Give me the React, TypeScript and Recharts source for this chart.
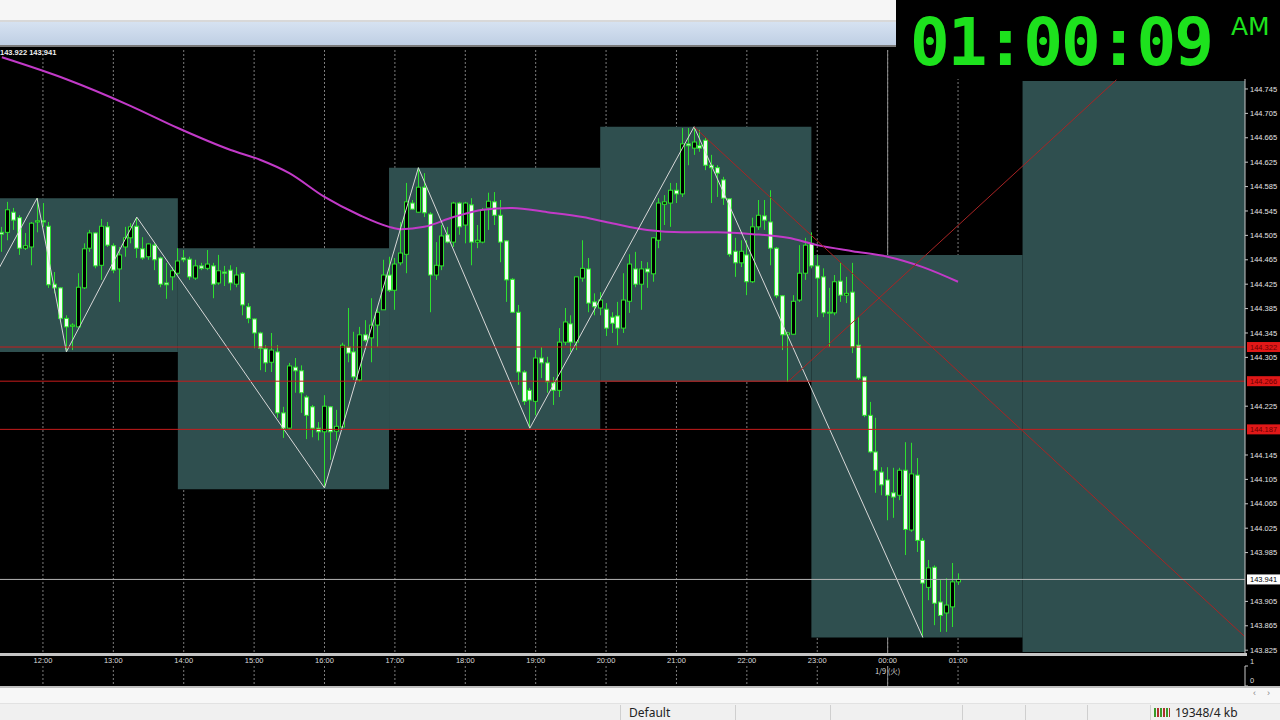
import React from "react";
import {
  Bar,
  CartesianGrid,
  ComposedChart,
  Line,
  ReferenceArea,
  ReferenceLine,
  XAxis,
  YAxis,
} from "recharts";

// 5 minute candles, time in minutes from 12:00 (first one is 11:25, last one 01:00)
const firstMinute = -35;
const opens = [
  144.510, 144.510, 144.543, 144.534, 144.484, 144.486, 144.527, 144.529, 144.520, 144.425,
  144.419, 144.369, 144.356, 144.355, 144.419, 144.484, 144.509, 144.456, 144.519, 144.488,
  144.450, 144.486, 144.501, 144.520, 144.483, 144.470, 144.489, 144.468, 144.427, 144.437,
  144.443, 144.468, 144.466, 144.435, 144.455, 144.451, 144.455, 144.427, 144.445, 144.448,
  144.425, 144.443, 144.388, 144.368, 144.345, 144.319, 144.297, 144.314, 144.214, 144.189,
  144.289, 144.283, 144.240, 144.224, 144.189, 144.183, 144.224, 144.184, 144.191, 144.322,
  144.314, 144.268, 144.342, 144.337, 144.358, 144.383, 144.440, 144.415, 144.460, 144.474,
  144.558, 144.543, 144.584, 144.540, 144.440, 144.455, 144.506, 144.494, 144.558, 144.522,
  144.555, 144.494, 144.494, 144.550, 144.560, 144.538, 144.496, 144.433, 144.379, 144.281,
  144.251, 144.233, 144.304, 144.296, 144.263, 144.251, 144.330, 144.360, 144.330, 144.435,
  144.450, 144.396, 144.386, 144.384, 144.371, 144.373, 144.353, 144.397, 144.450, 144.425,
  144.450, 144.442, 144.497, 144.556, 144.558, 144.579, 144.573, 144.655, 144.648, 144.652,
  144.661, 144.620, 144.616, 144.596, 144.565, 144.479, 144.460, 144.473, 144.429, 144.519,
  144.537, 144.527, 144.484, 144.406, 144.342, 144.343, 144.399, 144.443, 144.492, 144.455,
  144.437, 144.378, 144.378, 144.430, 144.407, 144.412, 144.325, 144.273, 144.210, 144.150,
  144.117, 144.104, 144.083, 144.079, 144.120, 144.022, 144.112, 144.005, 143.928, 143.961,
  143.904, 143.886, 143.896, 143.937,
];
const highs = [
  144.519, 144.560, 144.550, 144.538, 144.509, 144.527, 144.566, 144.558, 144.527, 144.445,
  144.420, 144.374, 144.361, 144.443, 144.492, 144.514, 144.510, 144.532, 144.527, 144.492,
  144.486, 144.519, 144.525, 144.535, 144.502, 144.492, 144.492, 144.470, 144.460, 144.453,
  144.484, 144.481, 144.470, 144.465, 144.460, 144.481, 144.460, 144.473, 144.455, 144.456,
  144.453, 144.445, 144.394, 144.369, 144.347, 144.325, 144.345, 144.325, 144.224, 144.296,
  144.304, 144.292, 144.243, 144.227, 144.199, 144.243, 144.225, 144.219, 144.329, 144.386,
  144.347, 144.355, 144.366, 144.402, 144.388, 144.465, 144.470, 144.468, 144.527, 144.591,
  144.563, 144.616, 144.607, 144.543, 144.494, 144.522, 144.519, 144.560, 144.560, 144.560,
  144.566, 144.522, 144.550, 144.575, 144.576, 144.563, 144.497, 144.435, 144.391, 144.284,
  144.255, 144.317, 144.322, 144.306, 144.273, 144.353, 144.386, 144.374, 144.437, 144.497,
  144.468, 144.410, 144.412, 144.394, 144.379, 144.396, 144.443, 144.474, 144.478, 144.463,
  144.461, 144.502, 144.566, 144.571, 144.591, 144.591, 144.681, 144.681, 144.683, 144.678,
  144.666, 144.637, 144.620, 144.601, 144.566, 144.501, 144.497, 144.497, 144.534, 144.563,
  144.563, 144.579, 144.486, 144.407, 144.347, 144.407, 144.489, 144.501, 144.510, 144.473,
  144.451, 144.419, 144.440, 144.460, 144.437, 144.460, 144.371, 144.274, 144.232, 144.206,
  144.125, 144.125, 144.124, 144.124, 144.166, 144.165, 144.140, 144.009, 143.973, 143.964,
  143.940, 143.943, 143.968, 143.951,
];
const lows = [
  144.478, 144.497, 144.514, 144.473, 144.481, 144.456, 144.510, 144.519, 144.419, 144.410,
  144.363, 144.314, 144.317, 144.355, 144.417, 144.478, 144.451, 144.432, 144.486, 144.443,
  144.396, 144.470, 144.492, 144.468, 144.465, 144.465, 144.448, 144.420, 144.401, 144.415,
  144.440, 144.461, 144.432, 144.432, 144.448, 144.448, 144.402, 144.424, 144.422, 144.415,
  144.420, 144.374, 144.361, 144.320, 144.284, 144.281, 144.281, 144.206, 144.173, 144.186,
  144.247, 144.214, 144.171, 144.174, 144.169, 144.091, 144.137, 144.169, 144.189, 144.297,
  144.268, 144.265, 144.330, 144.297, 144.322, 144.383, 144.412, 144.383, 144.456, 144.443,
  144.547, 144.542, 144.535, 144.379, 144.432, 144.448, 144.492, 144.486, 144.506, 144.492,
  144.456, 144.484, 144.492, 144.514, 144.522, 144.461, 144.396, 144.378, 144.260, 144.227,
  144.189, 144.210, 144.271, 144.247, 144.227, 144.240, 144.325, 144.314, 144.317, 144.429,
  144.379, 144.374, 144.374, 144.340, 144.345, 144.325, 144.345, 144.378, 144.420, 144.383,
  144.419, 144.429, 144.484, 144.522, 144.519, 144.558, 144.568, 144.620, 144.637, 144.642,
  144.612, 144.558, 144.568, 144.555, 144.470, 144.437, 144.453, 144.407, 144.427, 144.514,
  144.514, 144.456, 144.402, 144.317, 144.265, 144.342, 144.396, 144.432, 144.451, 144.371,
  144.371, 144.322, 144.374, 144.396, 144.394, 144.312, 144.268, 144.207, 144.148, 144.083,
  144.079, 144.038, 144.042, 144.071, 143.981, 144.019, 143.986, 143.846, 143.907, 143.866,
  143.855, 143.855, 143.863, 143.932,
];
const closes = [
  144.507, 144.547, 144.530, 144.484, 144.488, 144.525, 144.529, 144.527, 144.424, 144.419,
  144.369, 144.355, 144.358, 144.420, 144.483, 144.509, 144.455, 144.520, 144.489, 144.448,
  144.473, 144.501, 144.519, 144.484, 144.468, 144.491, 144.465, 144.425, 144.424, 144.447,
  144.463, 144.465, 144.437, 144.455, 144.451, 144.458, 144.425, 144.447, 144.443, 144.427,
  144.440, 144.391, 144.369, 144.345, 144.320, 144.296, 144.317, 144.214, 144.189, 144.291,
  144.283, 144.247, 144.210, 144.189, 144.183, 144.225, 144.183, 144.192, 144.325, 144.312,
  144.273, 144.342, 144.333, 144.358, 144.379, 144.440, 144.415, 144.458, 144.476, 144.560,
  144.548, 144.584, 144.542, 144.440, 144.456, 144.504, 144.494, 144.558, 144.519, 144.558,
  144.494, 144.497, 144.547, 144.561, 144.538, 144.494, 144.432, 144.379, 144.281, 144.233,
  144.235, 144.304, 144.296, 144.265, 144.251, 144.330, 144.363, 144.330, 144.437, 144.451,
  144.394, 144.388, 144.399, 144.353, 144.361, 144.353, 144.399, 144.458, 144.425, 144.450,
  144.445, 144.501, 144.558, 144.560, 144.579, 144.573, 144.655, 144.652, 144.658, 144.648,
  144.620, 144.616, 144.607, 144.566, 144.474, 144.460, 144.479, 144.429, 144.519, 144.538,
  144.530, 144.484, 144.406, 144.342, 144.345, 144.397, 144.443, 144.489, 144.455, 144.435,
  144.378, 144.379, 144.429, 144.407, 144.410, 144.322, 144.271, 144.210, 144.150, 144.120,
  144.096, 144.079, 144.076, 144.120, 144.023, 144.114, 144.005, 143.935, 143.960, 143.902,
  143.882, 143.899, 143.937, 143.941,
];

// moving average (magenta)
const maTimes = [-35, 20, 75, 115, 160, 185, 210, 240, 270, 295, 305, 325, 350, 375, 400, 430, 460, 485, 515, 545, 575, 605, 635, 660, 690, 720, 750, 780];
const maValues = [144.797, 144.761, 144.717, 144.681, 144.645, 144.629, 144.607, 144.568, 144.538, 144.519, 144.515, 144.519, 144.535, 144.547, 144.550, 144.543, 144.535, 144.525, 144.514, 144.510, 144.510, 144.507, 144.501, 144.489, 144.479, 144.470, 144.453, 144.429];

// zigzag
const zigTimes = [-40, -5, 20, 80, 240, 320, 415, 555, 750];
const zigValues = [144.442, 144.566, 144.314, 144.535, 144.091, 144.616, 144.189, 144.683, 143.846];

// 3 hour range boxes
const boxStart = [-65, 115, 295, 475, 655, 835];
const boxEnd = [115, 295, 475, 655, 835, 1040];
const boxHigh = [144.566, 144.484, 144.616, 144.683, 144.473, 144.758];
const boxLow = [144.314, 144.089, 144.187, 144.265, 143.846, 143.822];

const levels = [144.322, 144.266, 144.187];
const bid = 143.941;
const askText = "143.922 143.941";

// trend lines [t1, p1, t2, p2]
const trendDown = [555, 144.683, 1024, 143.848];
const trendUp = [635, 144.265, 915, 144.760];

const hourTicks = [0, 60, 120, 180, 240, 300, 360, 420, 480, 540, 600, 660, 720, 780];
const hourLabels = ["12:00", "13:00", "14:00", "15:00", "16:00", "17:00", "18:00", "19:00", "20:00", "21:00", "22:00", "23:00", "00:00", "01:00"];
const dayBreak = 720;
const dayLabel = "1/9 (火)";

const yTicks = [144.745, 144.705, 144.665, 144.625, 144.585, 144.545, 144.505, 144.465, 144.425, 144.385, 144.345, 144.305, 144.225, 144.145, 144.105, 144.065, 144.025, 143.985, 143.905, 143.865, 143.825];

// sub window (empty indicator)
const subTicks = [0, 1];

const xDomain = [-36.6, 1024.6];
const yDomain = [143.8204, 144.8089];

const axisFont = "'Liberation Sans', Arial, sans-serif";
const green = "#2ee02e";
const boxColor = "#2f4f4f";

const candles = opens.map((o, i) => ({
  t: firstMinute + i * 5,
  open: o,
  high: highs[i],
  low: lows[i],
  close: closes[i],
  range: [lows[i], highs[i]],
}));
const maData = maTimes.map((t, i) => ({ t, v: maValues[i] }));
const zigData = zigTimes.map((t, i) => ({ t, v: zigValues[i] }));

const Candle = (props: any) => {
  const { x, y, width, height, payload } = props;
  if (!payload || !isFinite(y)) return null;
  const cx = Math.floor(x + width / 2) + 0.5;
  const span = payload.high - payload.low;
  const k = span > 0 ? height / span : 0;
  const top = y + (payload.high - Math.max(payload.open, payload.close)) * k;
  const bottom = y + (payload.high - Math.min(payload.open, payload.close)) * k;
  const up = payload.close >= payload.open;
  return (
    <g>
      <line x1={cx} x2={cx} y1={y} y2={y + height} stroke={green} strokeWidth={1} />
      <rect
        x={cx - 2}
        y={top}
        width={4}
        height={Math.max(bottom - top, 1)}
        fill={up ? "#000000" : "#f0fff0"}
        stroke={green}
        strokeWidth={1}
      />
    </g>
  );
};

const AxisTag = (props: any) => {
  const { viewBox, text, bg, color } = props;
  if (!viewBox) return null;
  const x = viewBox.x + viewBox.width + 2;
  return (
    <g>
      <rect x={x} y={viewBox.y - 5} width={33} height={10} fill={bg} />
      <text x={x + 3} y={viewBox.y + 3} fontSize={7.5} fontFamily={axisFont} fill={color}>
        {text}
      </text>
    </g>
  );
};

// time labels sit at the top of the thin sub window
const TimeTick = (props: any) => {
  const { x, payload } = props;
  const i = hourTicks.indexOf(payload.value);
  return (
    <g>
      <text x={x} y={6.5} textAnchor="middle" fontSize={7.5} fontFamily={axisFont} fill="#dcdcdc">
        {hourLabels[i]}
      </text>
      {payload.value === dayBreak && (
        <text x={x} y={17.5} textAnchor="middle" fontSize={7.5} fontFamily={"'Noto Sans CJK JP', " + axisFont} fill="#dcdcdc">
          {dayLabel}
        </text>
      )}
    </g>
  );
};

const SubTick = (props: any) => {
  const { x, y, payload } = props;
  return (
    <text x={x} y={payload.value === 1 ? 7.5 : y - 3} fontSize={7.5} fontFamily={axisFont} fill="#dcdcdc">
      {payload.value}
    </text>
  );
};

export default function App() {
  return (
    <div
      style={{
        position: "fixed",
        left: 0,
        top: 0,
        width: 1280,
        height: 720,
        background: "#000",
        overflow: "hidden",
      }}
    >
      {/* window chrome at the top */}
      <div style={{ position: "absolute", left: 0, top: 0, width: 896, height: 20, background: "#f6f6f6" }} />
      <div style={{ position: "absolute", left: 0, top: 20, width: 896, height: 2, background: "#d8d8d8" }} />
      <div
        style={{
          position: "absolute",
          left: 0,
          top: 22,
          width: 896,
          height: 23,
          background: "linear-gradient(#d6e2f1, #bfcfe4)",
        }}
      />
      <div style={{ position: "absolute", left: 0, top: 45, width: 896, height: 2, background: "#7a7a7a" }} />

      {/* main chart */}
      <div style={{ position: "absolute", left: 0, top: 48 }}>
        <ComposedChart width={1280} height={607} data={candles} margin={{ top: 2, right: 0, bottom: 2, left: 0 }}>
          <CartesianGrid horizontal={false} verticalValues={hourTicks} stroke="#7c7c7c" strokeDasharray="2 2" />
          <CartesianGrid horizontal={false} verticalValues={[dayBreak]} stroke="#8c8c8c" />
          <XAxis type="number" dataKey="t" domain={xDomain} allowDataOverflow ticks={hourTicks} hide />
          <YAxis
            orientation="right"
            type="number"
            domain={yDomain}
            allowDataOverflow
            ticks={yTicks}
            interval={0}
            width={35}
            tickSize={3}
            tickMargin={2}
            axisLine={{ stroke: "#c8c8c8" }}
            tickLine={{ stroke: "#c8c8c8" }}
            tick={{ fill: "#e4e4e4", fontSize: 7.5, fontFamily: axisFont }}
            tickFormatter={(v: number) => v.toFixed(3)}
          />
          {boxStart.map((s, i) => (
            <ReferenceArea
              key={"box" + i}
              x1={s}
              x2={boxEnd[i]}
              y1={boxLow[i]}
              y2={boxHigh[i]}
              fill={boxColor}
              fillOpacity={1}
              stroke="none"
              ifOverflow="hidden"
            />
          ))}
          <Bar dataKey="range" barSize={4} shape={<Candle />} isAnimationActive={false} />
          <Line
            data={maData}
            dataKey="v"
            type="monotone"
            stroke="#c23ac8"
            strokeWidth={2}
            dot={false}
            isAnimationActive={false}
          />
          <Line
            data={zigData}
            dataKey="v"
            type="linear"
            stroke="#d8d8d8"
            strokeWidth={1}
            dot={false}
            isAnimationActive={false}
          />
          {levels.map((lv) => (
            <ReferenceLine
              key={"lv" + lv}
              y={lv}
              stroke="#c81c1c"
              strokeWidth={1}
              label={<AxisTag text={lv.toFixed(3)} bg="#e01818" color="#6e0000" />}
            />
          ))}
          <ReferenceLine
            segment={[
              { x: trendDown[0], y: trendDown[1] },
              { x: trendDown[2], y: trendDown[3] },
            ]}
            stroke="#a82424"
            strokeWidth={1}
          />
          <ReferenceLine
            segment={[
              { x: trendUp[0], y: trendUp[1] },
              { x: trendUp[2], y: trendUp[3] },
            ]}
            stroke="#a82424"
            strokeWidth={1}
          />
          <ReferenceLine
            y={bid}
            stroke="#b4b4b4"
            strokeWidth={1}
            label={<AxisTag text={bid.toFixed(3)} bg="#ffffff" color="#000000" />}
          />
        </ComposedChart>
      </div>

      <div
        style={{
          position: "absolute",
          left: 0,
          top: 48,
          color: "#f0f0f0",
          fontSize: 7.5,
          fontWeight: "bold",
          fontFamily: axisFont,
        }}
      >
        {askText}
      </div>

      {/* separator and time sub window */}
      <div style={{ position: "absolute", left: 0, top: 653, width: 1247, height: 3, background: "#c4c4c4" }} />
      <div style={{ position: "absolute", left: 0, top: 656 }}>
        <ComposedChart width={1280} height={30} data={candles} margin={{ top: 0, right: 0, bottom: 0, left: 0 }}>
          <CartesianGrid horizontal={false} verticalValues={hourTicks} stroke="#7c7c7c" strokeDasharray="2 2" />
          <CartesianGrid horizontal={false} verticalValues={[dayBreak]} stroke="#8c8c8c" />
          <XAxis
            type="number"
            dataKey="t"
            domain={xDomain}
            allowDataOverflow
            ticks={hourTicks}
            interval={0}
            orientation="top"
            height={10}
            tickSize={0}
            tickMargin={0}
            axisLine={false}
            tickLine={false}
            tick={<TimeTick />}
          />
          <YAxis
            orientation="right"
            type="number"
            domain={subTicks}
            allowDataOverflow
            ticks={subTicks}
            interval={0}
            width={35}
            tickSize={3}
            tickMargin={2}
            axisLine={{ stroke: "#c8c8c8" }}
            tickLine={{ stroke: "#c8c8c8" }}
            tick={<SubTick />}
          />
          <Line dataKey="close" stroke="none" dot={false} activeDot={false} isAnimationActive={false} />
        </ComposedChart>
      </div>

      {/* clock */}
      <div style={{ position: "absolute", left: 896, top: 0, width: 384, height: 79, background: "#000" }}>
        <div
          style={{
            position: "absolute",
            left: 14,
            top: 4,
            fontFamily: "'DejaVu Sans Mono', monospace",
            fontWeight: "bold",
            fontSize: 66,
            lineHeight: "normal",
            letterSpacing: -2,
            color: "#1de21d",
          }}
        >
          01:00:09
        </div>
        <div
          style={{
            position: "absolute",
            left: 335,
            top: 12,
            fontFamily: "'DejaVu Sans', sans-serif",
            fontSize: 25,
            lineHeight: "normal",
            color: "#1de21d",
          }}
        >
          AM
        </div>
      </div>

      {/* status bar */}
      <div style={{ position: "absolute", left: 0, top: 686, width: 1280, height: 2, background: "#c0c0c0" }} />
      <div style={{ position: "absolute", left: 0, top: 688, width: 1280, height: 15, background: "#f7f7f7" }}>
        <div style={{ position: "absolute", left: 1253, top: 0, fontSize: 9, color: "#888", fontFamily: axisFont }}>‹</div>
        <div style={{ position: "absolute", left: 1267, top: 0, fontSize: 9, color: "#888", fontFamily: axisFont }}>›</div>
      </div>
      <div
        style={{
          position: "absolute",
          left: 0,
          top: 703,
          width: 1280,
          height: 17,
          background: "#f0f0f0",
          borderTop: "1px solid #e2e2e2",
          fontFamily: "'Noto Sans', sans-serif",
          fontSize: 12,
          color: "#222",
        }}
      >
        {[620, 735, 830, 962, 1025, 1087, 1150].map((sx) => (
          <div key={sx} style={{ position: "absolute", left: sx, top: 1, width: 1, height: 15, background: "#cfcfcf" }} />
        ))}
        <div style={{ position: "absolute", left: 629, top: 0, lineHeight: "17px" }}>Default</div>
        <div style={{ position: "absolute", left: 1154, top: 4, width: 16, height: 9, background: "repeating-linear-gradient(90deg, #3a9a2a 0 2px, #f0f0f0 2px 3px, #b03030 3px 5px, #f0f0f0 5px 6px)" }} />
        <div style={{ position: "absolute", left: 1175, top: 0, lineHeight: "17px" }}>19348/4 kb</div>
      </div>
    </div>
  );
}
